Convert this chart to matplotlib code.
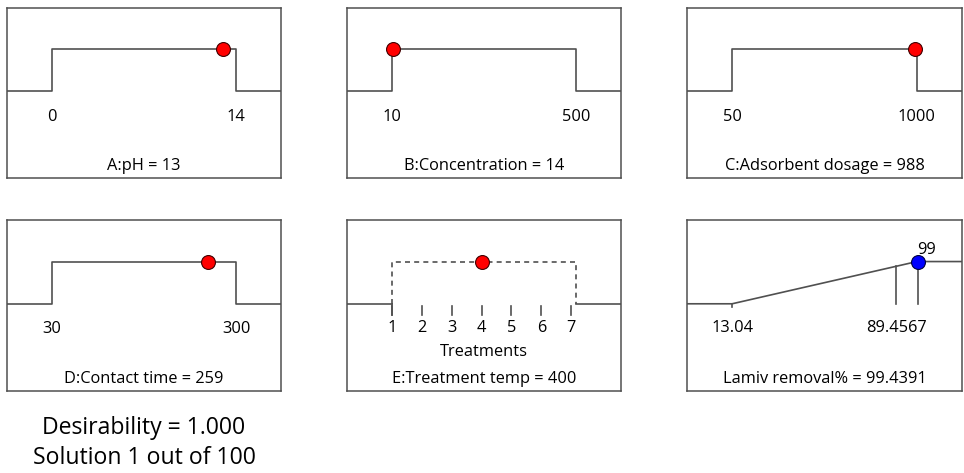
import matplotlib
matplotlib.use("Agg")
import matplotlib.pyplot as plt
import matplotlib.transforms as mtransforms

plt.rcParams['font.family'] = ['Open Sans', 'DejaVu Sans']

# factor ranges and optimum settings
factor_names = ["A:pH", "B:Concentration", "C:Adsorbent dosage", "D:Contact time"]
factor_low = [0, 10, 50, 30]
factor_high = [14, 500, 1000, 300]
factor_opt = [13, 14, 988, 259]

# categorical factor
treatments = [1, 2, 3, 4, 5, 6, 7]
treatment_opt = 4
treatment_title = "E:Treatment temp = 400"

# response
resp_name = "Lamiv removal%"
resp_low = 13.04
resp_high = 99
resp_obs = 89.4567
resp_pred = 99.4391

desirability = 1.000
solution_text = "Solution 1 out of 100"

W, H = 964, 473
LINE = "#505050"
FS = 11.8

fig = plt.figure(figsize=(W / 100, H / 100), dpi=100)


def make_ax(x0, y0, x1, y1):
    ax = fig.add_axes([x0 / W, 1 - y1 / H, (x1 - x0) / W, (y1 - y0) / H])
    ax.set_xticks([])
    ax.set_yticks([])
    for s in ax.spines.values():
        s.set_color(LINE)
        s.set_linewidth(1.1)
    return ax


def set_limits(ax, lo, hi, frac_lo=0.164, frac_hi=0.836):
    span = (hi - lo) / (frac_hi - frac_lo)
    ax.set_xlim(lo - frac_lo * span, lo + (1 - frac_lo) * span)
    # desirability 0 -> 0.51, 1 -> 0.757 of the box
    ax.set_ylim(-0.51 / 0.247, 0.49 / 0.247)


def mixed(ax):
    return mtransforms.blended_transform_factory(ax.transData, ax.transAxes)


boxes = [(7, 8, 281, 178), (347, 8, 621, 178), (687, 8, 962, 178),
         (7, 220, 281, 391)]

for i, (x0, y0, x1, y1) in enumerate(boxes):
    ax = make_ax(x0, y0, x1, y1)
    lo, hi = factor_low[i], factor_high[i]
    set_limits(ax, lo, hi)
    xl = ax.get_xlim()
    ax.plot([xl[0], lo, lo, hi, hi, xl[1]], [0, 0, 1, 1, 0, 0],
            color=LINE, lw=1.2, zorder=2)
    ax.plot([factor_opt[i]], [1], 'o', ms=10, mfc='red', mec='#400000',
            mew=0.8, zorder=3)
    tr = mixed(ax)
    ax.text(lo, 0.36, str(lo), transform=tr, ha='center', va='center', fontsize=FS)
    ax.text(hi, 0.36, str(hi), transform=tr, ha='center', va='center', fontsize=FS)
    ax.text(0.5, 0.07, f"{factor_names[i]} = {factor_opt[i]}",
            transform=ax.transAxes, ha='center', va='center', fontsize=FS)

# E: categorical factor
ax = make_ax(347, 220, 621, 391)
set_limits(ax, treatments[0], treatments[-1], 0.164, 0.818)
xl = ax.get_xlim()
right_edge = treatments[-1] + 0.17
ax.plot([xl[0], treatments[0]], [0, 0], color=LINE, lw=1.2)
ax.plot([right_edge, xl[1]], [0, 0], color=LINE, lw=1.2)
ax.plot([treatments[0], treatments[0], right_edge, right_edge], [0, 1, 1, 0],
        color=LINE, lw=1.2, ls=(0, (3, 2.5)))
for t in treatments:
    ax.plot([t, t], [-0.05, -0.26], color=LINE, lw=1.2)
ax.plot([treatments[0], treatments[0]], [0, -0.26], color=LINE, lw=1.2)
tr = mixed(ax)
for t in treatments:
    ax.text(t, 0.37, str(t), transform=tr, ha='center', va='center', fontsize=FS)
ax.text(0.5, 0.23, "Treatments", transform=ax.transAxes, ha='center',
        va='center', fontsize=FS)
ax.plot([treatment_opt], [1], 'o', ms=10, mfc='red', mec='#400000',
        mew=0.8, zorder=3)
ax.text(0.5, 0.07, treatment_title, transform=ax.transAxes, ha='center',
        va='center', fontsize=FS)

# F: response
ax = make_ax(687, 220, 962, 391)
set_limits(ax, resp_low, resp_high)
xl = ax.get_xlim()
ax.plot([xl[0], resp_low, resp_high, xl[1]], [0, 0, 1, 1], color=LINE, lw=1.2)
ax.plot([resp_low, resp_low], [0, -0.08], color=LINE, lw=1.2)
d_obs = (resp_obs - resp_low) / (resp_high - resp_low)
ax.plot([resp_obs, resp_obs], [0, d_obs], color=LINE, lw=1.2)
ax.plot([resp_pred, resp_pred], [0, 1], color=LINE, lw=1.2)
ax.plot([resp_pred], [1], 'o', ms=10, mfc='blue', mec='#000040',
        mew=0.8, zorder=3)
ax.text(resp_pred + 4, 1.28, f"{resp_high}", ha='center', va='center',
        fontsize=FS)
tr = mixed(ax)
ax.text(resp_low, 0.37, f"{resp_low}", transform=tr, ha='center',
        va='center', fontsize=FS)
ax.text(resp_obs, 0.37, f"{resp_obs}", transform=tr, ha='center',
        va='center', fontsize=FS)
ax.text(0.5, 0.07, f"{resp_name} = {resp_pred}", transform=ax.transAxes,
        ha='center', va='center', fontsize=FS)

fig.text(144 / W, 1 - 428 / H, f"Desirability = {desirability:.3f}",
         ha='center', va='center', fontsize=16.6)
fig.text(144 / W, 1 - 458 / H, solution_text, ha='center', va='center',
         fontsize=16.6)

fig.savefig("out.png", dpi=100)
